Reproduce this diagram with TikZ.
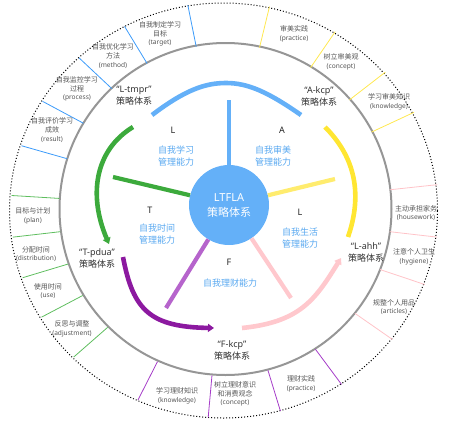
\documentclass[tikz,border=0pt]{standalone}
\usepackage{fontspec}
\setmainfont{Noto Sans CJK SC}
\newfontfamily\latf{Noto Sans}
\usetikzlibrary{arrows.meta}
\definecolor{cblue}{RGB}{100,176,248}
\definecolor{tblue}{RGB}{88,168,240}
\definecolor{cgreen}{RGB}{60,170,60}
\definecolor{cyellow}{RGB}{255,230,50}
\definecolor{cyellowl}{RGB}{255,236,110}
\definecolor{cpink}{RGB}{255,200,205}
\definecolor{cpurple}{RGB}{140,25,160}
\definecolor{cpurplel}{RGB}{182,100,204}
\definecolor{ringgray}{RGB}{150,150,150}
\definecolor{txtgray}{RGB}{85,85,85}
\definecolor{lblue}{RGB}{60,155,250}
\definecolor{lyellow}{RGB}{255,232,80}
\definecolor{lpink}{RGB}{255,195,200}
\definecolor{lpurple}{RGB}{165,60,200}
\definecolor{lgreen}{RGB}{95,190,95}
\tikzset{
  ringtxt/.style={font=\fontsize{7}{8.6}\selectfont, text=txtgray, align=center, inner sep=0pt},
  quotelbl/.style={font=\fontsize{9}{12}\selectfont, text=black!80, align=center, inner sep=0pt},
  bluelbl/.style={font=\fontsize{9}{11.5}\selectfont, text=tblue, align=center, inner sep=0pt},
  letter/.style={font=\fontsize{9}{11}\selectfont, text=black!85, inner sep=0pt},
  spoke/.style={line width=4.2pt},
  arcline/.style={line width=4.6pt},
  tip/.style={-{Triangle[length=6pt,width=8pt]}},
  ringline/.style={line width=0.8pt}
}
\newcommand{\lt}[1]{{\latf\fontsize{6.6}{8.6}\selectfont #1}}
\begin{document}
\begin{tikzpicture}[x=1pt,y=-1pt]
\useasboundingbox (0,0) rectangle (453,421);
% rings
\draw[ringgray, line width=2pt] (225.5,209) circle[radius=166pt];
\draw[dotted, line width=1pt] (223.5,210.5) ellipse[x radius=214pt, y radius=207.5pt];
\begin{scope}[shift={(225,210)}]
  \foreach \a in {100,118,133,148.5,162}
    \draw[ringline, lblue] (\a:166pt) -- (\a:214pt and 208pt);
  \foreach \a in {78,59,41.5,28}
    \draw[ringline, lyellow] (\a:166pt) -- (\a:214pt and 208pt);
  \foreach \a in {7,-7.5,-21,-38.5}
    \draw[ringline, lpink] (\a:166pt) -- (\a:214pt and 208pt);
  \foreach \a in {-114,-94.5,-75,-57}
    \draw[ringline, lpurple] (\a:166pt) -- (\a:214pt and 208pt);
  \foreach \a in {176,187.5,199,211,225}
    \draw[ringline, lgreen] (\a:166pt) -- (\a:214pt and 208pt);
\end{scope}
% ring texts
\node[ringtxt] (t1) at (160,34) {自我制定学习\\目标\\\lt{(target)}};
\node[ringtxt] (t2) at (113,56) {自我优化学习\\方法\\\lt{(method)}};
\node[ringtxt] (t3) at (77,89) {自我监控学习\\过程\\\lt{(process)}};
\node[ringtxt] (t4) at (52,130) {自我评价学习\\成效\\\lt{(result)}};
\node[ringtxt] (a1) at (294,34) {审美实践\\\lt{(practice)}};
\node[ringtxt] (a2) at (341,62) {树立审美观\\\lt{(concept)}};
\node[ringtxt] (a3) at (389,102) {学习审美知识\\\lt{(knowledge)}};
\node[ringtxt] (h1) at (416,213) {主动承担家务\\\lt{(housework)}};
\node[ringtxt] (h2) at (414,257) {注意个人卫生\\\lt{(hygiene)}};
\node[ringtxt] (h3) at (394,307) {规整个人用品\\\lt{(articles)}};
\node[ringtxt] (f1) at (177,396) {学习理财知识\\\lt{(knowledge)}};
\node[ringtxt] (f2) at (235,394) {树立理财意识\\和消费观念\\\lt{(concept)}};
\node[ringtxt] (f3) at (301,384) {理财实践\\\lt{(practice)}};
\node[ringtxt] (p1) at (33,216) {目标与计划\\\lt{(plan)}};
\node[ringtxt] (p2) at (36,254) {分配时间\\\lt{(distribution)}};
\node[ringtxt] (p3) at (48,291) {使用时间\\\lt{(use)}};
\node[ringtxt] (p4) at (72,329) {反思与调整\\\lt{(adjustment)}};
% system labels
\node[quotelbl] (qL) at (134,96) {{\latf “L-tmpr”}\\策略体系};
\node[quotelbl] (qA) at (319,96) {{\latf “A-kcp”}\\策略体系};
\node[quotelbl] (qT) at (97,258) {{\latf “T-pdua”}\\策略体系};
\node[quotelbl] (qH) at (366,252) {{\latf “L-ahh”}\\策略体系};
\node[quotelbl] (qF) at (232,350) {{\latf “F-kcp”}\\策略体系};
% letters
\node[letter] (lL) at (173,130) {\latf L};
\node[letter] (lA) at (282,130) {\latf A};
\node[letter] (lT) at (150,210) {\latf T};
\node[letter] (lH) at (300,212) {\latf L};
\node[letter] (lF) at (229,262) {\latf F};
% blue labels
\node[bluelbl] (bL) at (176,156) {自我学习\\管理能力};
\node[bluelbl] (bA) at (273,156) {自我审美\\管理能力};
\node[bluelbl] (bT) at (157,234) {自我时间\\管理能力};
\node[bluelbl] (bH) at (300,238) {自我生活\\管理能力};
\node[bluelbl] (bF) at (230,283) {自我理财能力};
% core
\node[circle, fill=cblue, minimum size=80pt, inner sep=0pt, text=white,
      font=\fontsize{11}{15}\selectfont, align=center] (core) at (229,205)
      {{\latf LTFLA}\\策略体系};
% spoke ends
\coordinate (sB) at (229,100);
\coordinate (sT) at (113,177);
\coordinate (sA) at (335,179);
\coordinate (sH) at (291,298);
\coordinate (sF) at (166,308);
\draw[spoke, cblue] (core.90) -- (sB);
\draw[spoke, cgreen] (core.166) -- (sT);
\draw[spoke, cyellowl] (core.14) -- (sA);
\draw[spoke, cpink] (core.-56) -- (sH);
\draw[spoke, cpurplel] (core.-121) -- (sF);
% arcs
\coordinate (bl0) at (152,115); \coordinate (bl1) at (226,83); \coordinate (bl2) at (301,115);
\draw[arcline, cblue] (bl0) .. controls (185,90) and (205,83) .. (bl1) .. controls (248,83) and (268,92) .. (bl2);
\coordinate (y0) at (325,127); \coordinate (y1) at (348,237);
\draw[arcline, cyellow] (y0) .. controls (348,150) and (366,185) .. (y1);
\coordinate (g0) at (133,127); \coordinate (g1) at (109,244);
\draw[arcline, cgreen, tip] (g0) .. controls (95,150) and (88,195) .. (g1);
\coordinate (u0) at (123,257); \coordinate (u1) at (214,328);
\draw[arcline, cpurple, tip] (u0) .. controls (133,310) and (150,327) .. (u1);
\coordinate (k0) at (242,328); \coordinate (k1) at (341,258);
\draw[arcline, cpink, tip] (k0) .. controls (300,322) and (315,300) .. (k1);
\end{tikzpicture}
\end{document}
